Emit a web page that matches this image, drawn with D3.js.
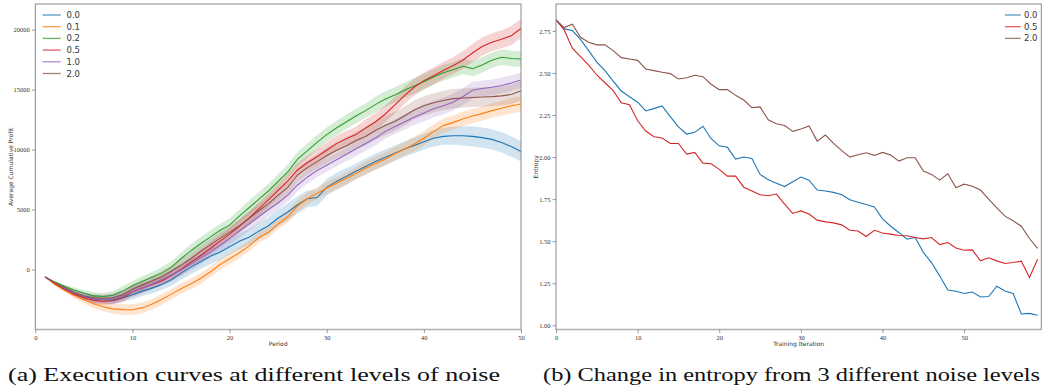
<!DOCTYPE html>
<html lang="en">
<head>
<meta charset="UTF-8">
<title>Noise level curves</title>
<script src="https://d3js.org/d3.v7.min.js"></script>
<style>
  body { margin: 0; background: #fff; }
  svg { display: block; }
  .tick text { font-family: "Liberation Serif", "DejaVu Serif", serif; font-size: 6.5px; }
  .axlabel { font-family: "DejaVu Sans", sans-serif; font-size: 6px; }
  .legend text { font-family: "DejaVu Sans", sans-serif; font-size: 8.5px; }
  .caption { font-family: "Liberation Serif", "DejaVu Serif", serif; font-size: 19px; }
</style>
</head>
<body>
<div id="chart"></div>
<script>
// ---- data: left panel (average cumulative profit per period) ----
const periods = d3.range(1, 51);
const noiseLevels = ["0.0", "0.1", "0.2", "0.5", "1.0", "2.0"];
const colors = ["#1f77b4", "#ff7f0e", "#2ca02c", "#d62728", "#9467bd", "#8c564b"];

const profit00 = [-610,-1150,-1550,-1950,-2250,-2450,-2520,-2530,-2350,-2100,
  -1800,-1550,-1250,-850,-300,200,650,1100,1450,1900,
  2350,2700,3200,3650,4300,4800,5400,5900,6000,6850,
  7350,7750,8200,8600,9000,9350,9700,10050,10350,10650,
  10950,11100,11150,11150,11100,11000,10850,10600,10250,9850];
const profit01 = [-610,-1250,-1700,-2150,-2520,-2850,-3100,-3280,-3340,-3350,
  -3200,-2900,-2500,-2050,-1600,-1200,-750,-200,400,900,
  1400,1950,2650,3100,3800,4400,5300,5900,6350,6800,
  7200,7600,8000,8450,8850,9200,9650,10050,10450,10950,
  11500,12000,12250,12550,12800,13000,13250,13450,13650,13800];
const profit02 = [-610,-1050,-1400,-1700,-1950,-2200,-2250,-2150,-1800,-1350,
  -1000,-650,-300,200,900,1550,2150,2700,3250,3700,
  4450,5150,5850,6550,7350,8150,9200,9900,10600,11250,
  11800,12300,12800,13250,13750,14200,14550,14950,15300,15650,
  16050,16400,16650,16950,16750,17050,17450,17700,17600,17550];
const profit05 = [-610,-1150,-1650,-2050,-2350,-2550,-2650,-2600,-2350,-1850,
  -1550,-1250,-950,-500,0,600,1150,1750,2350,2950,
  3600,4300,5050,5800,6600,7400,8300,8900,9400,9950,
  10500,10900,11250,11800,12300,12950,13700,14500,15200,15750,
  16150,16600,17000,17450,18050,18600,18950,19200,19500,20100];
const profit10 = [-610,-1100,-1550,-1950,-2250,-2450,-2500,-2450,-2200,-1850,
  -1550,-1200,-850,-450,-50,450,950,1450,2000,2600,
  3200,3800,4400,5000,5550,6200,7050,7700,8250,8700,
  9150,9600,10050,10500,10950,11500,11900,12300,12700,13050,
  13400,13650,13950,14400,14950,15100,15200,15350,15550,15800];
const profit20 = [-610,-1100,-1500,-1900,-2200,-2350,-2400,-2350,-2100,-1650,
  -1300,-950,-600,-150,350,900,1500,2050,2600,3100,
  3650,4250,4900,5500,6200,6850,7900,8500,9000,9500,
  9950,10300,10750,11100,11600,12000,12350,12800,13300,13650,
  13900,14100,14250,14300,14350,14380,14420,14480,14600,14900];

// half-width of the shaded band around each curve
const band00 = [0,100,150,200,250,300,300,350,350,400,400,450,450,500,550,600,600,650,650,650,
  650,650,700,700,700,700,700,700,700,700,700,700,650,650,650,650,650,650,650,650,
  700,700,750,800,850,850,850,850,850,850];
const band01 = [0,100,200,250,300,350,400,400,450,450,450,450,450,450,450,450,450,450,450,450,
  450,450,450,450,450,500,500,500,500,500,500,500,500,550,550,550,550,550,600,600,
  600,600,600,600,600,600,600,600,650,650];
const band02 = [0,100,150,200,250,300,300,350,400,400,450,450,500,500,500,550,550,550,550,550,
  550,600,600,600,600,600,600,600,600,600,600,600,600,600,650,650,650,650,650,650,
  650,650,650,650,650,650,650,650,650,650];
const band05 = [0,100,150,200,250,300,300,300,350,350,400,400,400,450,450,450,500,500,500,500,
  550,550,550,550,600,600,600,600,650,650,650,650,650,700,700,700,700,700,700,700,
  700,700,700,750,750,750,750,750,800,800];
const band10 = [0,100,200,250,300,350,350,400,400,450,450,450,450,500,500,500,500,500,550,550,
  550,550,550,550,550,550,550,550,550,550,550,550,600,600,600,600,600,650,650,700,
  700,700,700,700,700,650,650,650,650,650];
const band20 = [0,100,150,200,250,300,300,350,350,400,400,400,450,450,450,500,500,500,500,550,
  550,550,550,550,600,600,600,600,600,650,650,700,700,750,750,800,800,800,800,800,
  800,800,800,800,800,800,800,800,800,800];

// ---- data: right panel (entropy per training iteration) ----
const iterations = d3.range(0, 60);
const entropyLevels = ["0.0", "0.5", "2.0"];
const entropyColors = ["#1f77b4", "#d62728", "#8c564b"];
const ent00 = [2.815,2.762,2.752,2.700,2.633,2.565,2.514,2.452,2.393,2.359,
  2.326,2.274,2.288,2.304,2.240,2.179,2.137,2.147,2.183,2.109,
  2.067,2.058,1.988,2.000,1.992,1.897,1.865,1.845,1.825,1.853,
  1.881,1.863,1.804,1.798,1.790,1.776,1.746,1.732,1.718,1.704,
  1.633,1.589,1.552,1.512,1.522,1.433,1.373,1.294,1.210,1.202,
  1.189,1.198,1.168,1.171,1.232,1.204,1.189,1.067,1.071,1.060];
const ent05 = [2.815,2.756,2.647,2.597,2.546,2.488,2.442,2.395,2.323,2.311,
  2.216,2.155,2.121,2.113,2.081,2.081,2.018,2.028,1.964,1.960,
  1.927,1.887,1.887,1.821,1.799,1.776,1.770,1.780,1.720,1.665,
  1.680,1.661,1.625,1.615,1.609,1.597,1.565,1.561,1.528,1.565,
  1.549,1.542,1.534,1.532,1.522,1.514,1.522,1.480,1.492,1.460,
  1.446,1.448,1.383,1.401,1.383,1.367,1.373,1.381,1.284,1.393];
const ent20 = [2.815,2.770,2.790,2.712,2.683,2.667,2.667,2.633,2.591,2.583,
  2.575,2.524,2.514,2.504,2.496,2.464,2.472,2.486,2.478,2.433,
  2.401,2.401,2.367,2.339,2.294,2.298,2.222,2.198,2.188,2.153,
  2.167,2.185,2.095,2.131,2.081,2.038,2.000,2.014,2.026,2.010,
  2.028,2.012,1.976,1.996,1.996,1.917,1.897,1.863,1.901,1.817,
  1.839,1.827,1.804,1.750,1.698,1.649,1.621,1.589,1.516,1.457];

const captionA = "(a) Execution curves at different levels of noise";
const captionB = "(b) Change in entropy from 3 different noise levels";

// ---- layout ----
const W = 1042, H = 389;
const svg = d3.select("#chart").append("svg").attr("width", W).attr("height", H);

const left = { x0: 35.3, x1: 521, y0: 4, y1: 329.5 };
const right = { x0: 556, x1: 1041.3, y0: 4, y1: 329.5 };

function frame(p) {
  svg.append("rect")
    .attr("x", p.x0).attr("y", p.y0)
    .attr("width", p.x1 - p.x0).attr("height", p.y1 - p.y0)
    .attr("fill", "none").attr("stroke", "#8a8a8a").attr("stroke-width", 1);
  svg.append("line")
    .attr("x1", p.x0).attr("x2", p.x1).attr("y1", p.y1).attr("y2", p.y1)
    .attr("stroke", "#b0b0b0").attr("stroke-width", 1.6);
}

function styleAxis(g) {
  g.select(".domain").remove();
  g.selectAll(".tick line").attr("stroke", "#555").attr("stroke-width", 0.6);
  g.selectAll(".tick text").attr("fill", "#333");
}

// ---- left panel ----
const x = d3.scaleLinear().domain([0, 50]).range([left.x0, left.x1]);
const y = d3.scaleLinear().domain([-5000, 22140]).range([left.y1, left.y0]);

const profits = [profit00, profit01, profit02, profit05, profit10, profit20];
const bands = [band00, band01, band02, band05, band10, band20];

const area = d3.area()
  .x((d, i) => x(periods[i]))
  .y0(d => y(d.lo)).y1(d => y(d.hi));
const line = d3.line().x((d, i) => x(periods[i])).y(d => y(d));

profits.forEach((vals, k) => {
  const pts = vals.map((v, i) => ({ lo: v - bands[k][i], hi: v + bands[k][i] }));
  svg.append("path").datum(pts)
    .attr("d", area).attr("fill", colors[k]).attr("fill-opacity", 0.2);
});
profits.forEach((vals, k) => {
  svg.append("path").datum(vals)
    .attr("d", line).attr("fill", "none")
    .attr("stroke", colors[k]).attr("stroke-width", 1.1);
});

frame(left);

svg.append("g").attr("transform", `translate(0,${left.y1})`)
  .call(d3.axisBottom(x).tickValues([0, 10, 20, 30, 40, 50]).tickSize(3.5).tickPadding(2))
  .call(styleAxis);
svg.append("g").attr("transform", `translate(${left.x0},0)`)
  .call(d3.axisLeft(y).tickValues([0, 5000, 10000, 15000, 20000])
    .tickFormat(d3.format("d")).tickSize(3.5).tickPadding(2))
  .call(styleAxis);

svg.append("text").attr("class", "axlabel").attr("fill", "#333")
  .attr("x", (left.x0 + left.x1) / 2).attr("y", 346).attr("text-anchor", "middle")
  .text("Period");
svg.append("text").attr("class", "axlabel").attr("fill", "#333")
  .attr("transform", `translate(13,${(left.y0 + left.y1) / 2}) rotate(-90)`)
  .attr("text-anchor", "middle").text("Average Cumulative Profit");

const legL = svg.append("g").attr("class", "legend");
noiseLevels.forEach((lab, k) => {
  const yy = 15 + k * 11.7;
  legL.append("line").attr("x1", 42.7).attr("x2", 60.7).attr("y1", yy).attr("y2", yy)
    .attr("stroke", colors[k]).attr("stroke-width", 1.3).attr("stroke-opacity", 0.75);
  legL.append("text").attr("x", 66.5).attr("y", yy + 3).attr("fill", "#333").text(lab);
});

// ---- right panel ----
const x2 = d3.scaleLinear().domain([0, 59.45]).range([right.x0, right.x1]);
const y2 = d3.scaleLinear().domain([0.975, 2.91]).range([right.y1, right.y0]);
const line2 = d3.line().x((d, i) => x2(iterations[i])).y(d => y2(d));

[ent00, ent05, ent20].forEach((vals, k) => {
  svg.append("path").datum(vals)
    .attr("d", line2).attr("fill", "none")
    .attr("stroke", entropyColors[k]).attr("stroke-width", 1.1);
});

frame(right);

svg.append("g").attr("transform", `translate(0,${right.y1})`)
  .call(d3.axisBottom(x2).tickValues([0, 10, 20, 30, 40, 50]).tickSize(3.5).tickPadding(2))
  .call(styleAxis);
svg.append("g").attr("transform", `translate(${right.x0},0)`)
  .call(d3.axisLeft(y2).tickValues([1.0, 1.25, 1.5, 1.75, 2.0, 2.25, 2.5, 2.75])
    .tickFormat(d3.format(".2f")).tickSize(3.5).tickPadding(2))
  .call(styleAxis);

svg.append("text").attr("class", "axlabel").attr("fill", "#333")
  .attr("x", (right.x0 + right.x1) / 2).attr("y", 346).attr("text-anchor", "middle")
  .text("Training Iteration");
svg.append("text").attr("class", "axlabel").attr("fill", "#333")
  .attr("transform", `translate(538,${(right.y0 + right.y1) / 2}) rotate(-90)`)
  .attr("text-anchor", "middle").text("Entropy");

const legR = svg.append("g").attr("class", "legend");
entropyLevels.forEach((lab, k) => {
  const yy = 15 + k * 11.7;
  legR.append("line").attr("x1", 1005).attr("x2", 1020.7).attr("y1", yy).attr("y2", yy)
    .attr("stroke", entropyColors[k]).attr("stroke-width", 1.3).attr("stroke-opacity", 0.75);
  legR.append("text").attr("x", 1024).attr("y", yy + 3).attr("fill", "#333").text(lab);
});

// ---- captions ----
svg.append("text").attr("class", "caption").attr("fill", "#111")
  .attr("x", 8).attr("y", 381).attr("textLength", 492).attr("lengthAdjust", "spacingAndGlyphs")
  .text(captionA);
svg.append("text").attr("class", "caption").attr("fill", "#111")
  .attr("x", 543).attr("y", 381).attr("textLength", 497).attr("lengthAdjust", "spacingAndGlyphs")
  .text(captionB);
</script>
</body>
</html>
